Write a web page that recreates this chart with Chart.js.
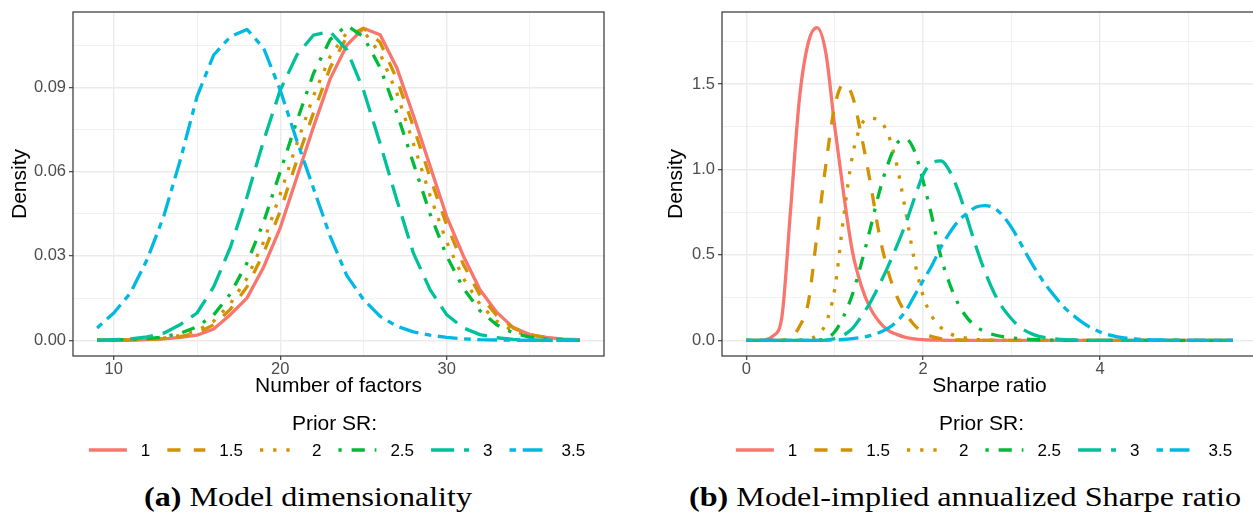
<!DOCTYPE html>
<html>
<head>
<meta charset="utf-8">
<script src="https://cdn.jsdelivr.net/npm/chart.js@4.4.1/dist/chart.umd.min.js"></script>
<style>
  html, body { margin: 0; padding: 0; background: #fff; overflow: hidden; }
  #page { position: relative; width: 1253px; height: 513px; overflow: hidden; }
  canvas { position: absolute; top: 0; }
  #dimChart { left: 0; }
  #srChart { left: 650px; }
  .cap { position: absolute; top: 484px; font-family: "Liberation Serif", "Times New Roman", serif;
         font-size: 27px; line-height: 27px; white-space: nowrap; transform-origin: 0 0; color: #000; }
</style>
</head>
<body>
<div id="page">
  <canvas id="dimChart" width="620" height="470"></canvas>
  <canvas id="srChart" width="620" height="470"></canvas>
  <div class="cap" id="capA" data-left="144" data-width="328"><b>(a)</b> Model dimensionality</div>
  <div class="cap" id="capB" data-left="689" data-width="552"><b>(b)</b> Model-implied annualized Sharpe ratio</div>
</div>
<script>
// prior Sharpe ratio levels (legend entries)
var priorSR = ['1', '1.5', '2', '2.5', '3', '3.5'];

// panel (a): posterior density of the number of factors
var factorCounts = [9, 10, 11, 12, 13, 14, 15, 16, 17, 18, 19, 20, 21, 22, 23,
                    24, 25, 26, 27, 28, 29, 30, 31, 32, 33, 34, 35, 36, 37, 38];
var dimSR1  = [0, 0, 0.0001, 0.0002, 0.0005, 0.0010, 0.0018, 0.0040, 0.0091, 0.0150,
               0.0260, 0.0400, 0.0580, 0.0760, 0.0930, 0.1050, 0.1110, 0.1087, 0.0970, 0.0800,
               0.0620, 0.0440, 0.0300, 0.0180, 0.0100, 0.0045, 0.0020, 0.0010, 0.0004, 0.0002];
var dimSR15 = [0, 0, 0.0001, 0.0003, 0.0006, 0.0013, 0.0026, 0.0055, 0.0110, 0.0190,
               0.0310, 0.0460, 0.0640, 0.0810, 0.0970, 0.1080, 0.1110, 0.1060, 0.0930, 0.0760,
               0.0580, 0.0410, 0.0270, 0.0160, 0.0088, 0.0044, 0.0020, 0.0008, 0.0003, 0.0001];
var dimSR2  = [0, 0.0001, 0.0002, 0.0004, 0.0008, 0.0017, 0.0034, 0.0068, 0.0130, 0.0220,
               0.0350, 0.0520, 0.0700, 0.0870, 0.1010, 0.1095, 0.1100, 0.1020, 0.0880, 0.0700,
               0.0515, 0.0350, 0.0220, 0.0128, 0.0068, 0.0033, 0.0015, 0.0006, 0.0002, 0.0001];
var dimSR25 = [0, 0.0001, 0.0003, 0.0006, 0.0012, 0.0025, 0.0048, 0.0090, 0.0165, 0.0275,
               0.0420, 0.0600, 0.0780, 0.0950, 0.1070, 0.1120, 0.1080, 0.0970, 0.0810, 0.0630,
               0.0450, 0.0300, 0.0185, 0.0105, 0.0055, 0.0026, 0.0011, 0.0004, 0.0001, 0];
var dimSR3  = [0, 0.0002, 0.0005, 0.0012, 0.0025, 0.0056, 0.0097, 0.0190, 0.0330, 0.0510,
               0.0710, 0.0890, 0.1015, 0.1086, 0.1098, 0.1033, 0.0890, 0.0700, 0.0500, 0.0310,
               0.0180, 0.0091, 0.0044, 0.0020, 0.0009, 0.0003, 0.0001, 0, 0, 0];
var dimSR35 = [0.0044, 0.0097, 0.0168, 0.0287, 0.0441, 0.0642, 0.0867, 0.1015, 0.1080, 0.1106,
               0.1040, 0.0890, 0.0710, 0.0540, 0.0370, 0.0230, 0.0145, 0.0085, 0.0050, 0.0030,
               0.0018, 0.0010, 0.0005, 0.0002, 0.0001, 0, 0, 0, 0, 0];

// panel (b): density of the model-implied annualized Sharpe ratio
var srGrid = [0.0, 0.1, 0.2, 0.3, 0.4, 0.5, 0.6, 0.7, 0.8, 0.9,
              1.0, 1.1, 1.2, 1.3, 1.4, 1.5, 1.6, 1.7, 1.8, 1.9,
              2.0, 2.1, 2.2, 2.3, 2.4, 2.5, 2.6, 2.7, 2.8, 2.9,
              3.0, 3.1, 3.2, 3.3, 3.4, 3.5, 3.6, 3.7, 3.8, 3.9,
              4.0, 4.1, 4.2, 4.3, 4.4, 4.5, 4.6, 4.7, 4.8, 4.9,
              5.0, 5.1, 5.2, 5.3, 5.4, 5.5];
var shSR1  = [0, 0, 0.002, 0.025, 0.13, 0.76, 1.41, 1.74, 1.83, 1.68,
              1.25, 0.86, 0.52, 0.32, 0.19, 0.11, 0.06, 0.035, 0.018, 0.009,
              0.004, 0.002, 0.001, 0, 0, 0, 0, 0, 0, 0,
              0, 0, 0, 0, 0, 0, 0, 0, 0, 0,
              0, 0, 0, 0, 0, 0, 0, 0, 0, 0,
              0, 0, 0, 0, 0, 0];
var shSR15 = [0, 0, 0, 0, 0.002, 0.015, 0.08, 0.22, 0.62, 1.03,
              1.37, 1.50, 1.43, 1.20, 0.93, 0.63, 0.41, 0.26, 0.16, 0.09,
              0.045, 0.022, 0.01, 0.005, 0.002, 0.001, 0, 0, 0, 0,
              0, 0, 0, 0, 0, 0, 0, 0, 0, 0,
              0, 0, 0, 0, 0, 0, 0, 0, 0, 0,
              0, 0, 0, 0, 0, 0];
var shSR2  = [0, 0, 0, 0, 0, 0, 0.002, 0.008, 0.03, 0.10,
              0.30, 0.72, 1.08, 1.26, 1.30, 1.29, 1.21, 1.03, 0.76, 0.47,
              0.26, 0.14, 0.075, 0.04, 0.022, 0.012, 0.006, 0.003, 0.0015, 0.0007,
              0, 0, 0, 0, 0, 0, 0, 0, 0, 0,
              0, 0, 0, 0, 0, 0, 0, 0, 0, 0,
              0, 0, 0, 0, 0, 0];
var shSR25 = [0, 0, 0, 0, 0, 0, 0, 0, 0.002, 0.01,
              0.05, 0.14, 0.27, 0.45, 0.65, 0.86, 1.03, 1.15, 1.18, 1.11,
              0.93, 0.72, 0.49, 0.33, 0.21, 0.13, 0.08, 0.05, 0.033, 0.022,
              0.015, 0.01, 0.006, 0.004, 0.002, 0.001, 0, 0, 0, 0,
              0, 0, 0, 0, 0, 0, 0, 0, 0, 0,
              0, 0, 0, 0, 0, 0];
var shSR3  = [0, 0, 0, 0, 0, 0, 0, 0, 0, 0.002,
              0.01, 0.03, 0.07, 0.14, 0.22, 0.32, 0.43, 0.55, 0.68, 0.83,
              0.97, 1.04, 1.05, 0.99, 0.87, 0.71, 0.545, 0.40, 0.28, 0.19,
              0.125, 0.075, 0.045, 0.025, 0.014, 0.008, 0.004, 0.002, 0.001, 0,
              0, 0, 0, 0, 0, 0, 0, 0, 0, 0,
              0, 0, 0, 0, 0, 0];
var shSR35 = [0, 0, 0, 0, 0, 0, 0, 0, 0, 0.001,
              0.003, 0.005, 0.01, 0.017, 0.028, 0.045, 0.07, 0.11, 0.17, 0.26,
              0.35, 0.44, 0.545, 0.63, 0.70, 0.745, 0.78, 0.789, 0.775, 0.73,
              0.66, 0.57, 0.475, 0.39, 0.315, 0.25, 0.19, 0.145, 0.105, 0.073,
              0.049, 0.032, 0.021, 0.013, 0.008, 0.005, 0.003, 0.002, 0.001, 0,
              0, 0, 0, 0, 0, 0];

// ggplot-like line styles: solid, dashed, dotted, dotdash, longdash, twodash
var lw = 3.3;
var lineColors = ['#F8766D', '#D39200', '#D39200', '#00BA38', '#00C19A', '#00B9E3'];
var lineDashes = [[], [4*lw, 4*lw], [lw, 3*lw], [lw, 3*lw, 4*lw, 3*lw], [7*lw, 3*lw], [2*lw, 2*lw, 6*lw, 2*lw]];

Chart.defaults.font.family = '"Liberation Sans", Arial, sans-serif';

function makeSets(xs, series, smooth) {
  return series.map(function (ys, i) {
    return {
      label: priorSR[i],
      data: xs.map(function (x, k) { return {x: x, y: ys[k]}; }),
      borderColor: lineColors[i],
      backgroundColor: lineColors[i],
      borderWidth: lw,
      borderDash: lineDashes[i],
      borderCapStyle: 'butt',
      borderJoinStyle: 'round',
      pointRadius: 0,
      fill: false,
      tension: 0,
      cubicInterpolationMode: smooth ? 'monotone' : 'default',
      order: series.length - i
    };
  });
}

// panel border plus the "Prior SR:" legend under the axis title
var panelDecor = {
  id: 'panelDecor',
  afterDraw: function (chart, args, opts) {
    var ctx = chart.ctx, a = chart.chartArea;
    ctx.save();
    ctx.setLineDash([]);
    ctx.strokeStyle = '#333333';
    ctx.lineWidth = 1.2;
    ctx.strokeRect(a.left, a.top, a.right - a.left, a.bottom - a.top);

    var cx = (a.left + a.right) / 2 + opts.shift;
    ctx.fillStyle = '#000';
    ctx.textBaseline = 'alphabetic';
    ctx.textAlign = 'center';
    ctx.font = '21px "Liberation Sans", Arial, sans-serif';
    ctx.fillText('Prior SR:', cx - 2.5, 430);

    ctx.font = '17px "Liberation Sans", Arial, sans-serif';
    ctx.textAlign = 'left';
    var keyW = 38, keyGap = 14, itemGap = 17, y = 450;
    var sets = chart.data.datasets;
    var widths = sets.map(function (d) { return ctx.measureText(d.label).width; });
    var total = itemGap * (sets.length - 1);
    widths.forEach(function (w) { total += keyW + keyGap + w; });
    var x = cx - total / 2;
    sets.forEach(function (d, i) {
      ctx.strokeStyle = d.borderColor;
      ctx.lineWidth = d.borderWidth;
      ctx.lineCap = 'butt';
      ctx.setLineDash(d.borderDash);
      ctx.beginPath();
      ctx.moveTo(x, y);
      ctx.lineTo(x + keyW, y);
      ctx.stroke();
      x += keyW + keyGap;
      ctx.fillStyle = '#000';
      ctx.fillText(d.label, x, y + 6);
      x += widths[i] + itemGap;
    });
    ctx.restore();
  }
};

function axisGrid(isMajor) {
  return {
    color: '#EBEBEB',
    lineWidth: function (c) { return c.tick && isMajor(c.tick.value) ? 1.4 : 0.7; },
    drawTicks: true,
    tickLength: 4,
    tickWidth: 1.1,
    tickColor: function (c) { return c.tick && isMajor(c.tick.value) ? '#333333' : 'rgba(0,0,0,0)'; }
  };
}

function buildChart(id, sets, cfg) {
  var tickFont = {size: 16.5, lineHeight: 1};
  var titleFont = {size: 21};
  return new Chart(document.getElementById(id), {
    type: 'line',
    data: {datasets: sets},
    options: {
      responsive: false,
      animation: false,
      events: [],
      layout: {padding: {top: 12, right: cfg.padRight, bottom: 70, left: 0}},
      plugins: {legend: {display: false}, tooltip: {enabled: false}, panelDecor: {shift: cfg.shift}},
      scales: {
        x: {
          type: 'linear', min: cfg.xMin, max: cfg.xMax,
          border: {display: false},
          grid: axisGrid(cfg.xMajor),
          ticks: {stepSize: cfg.xStep, includeBounds: false, autoSkip: false, maxRotation: 0,
                  color: '#4D4D4D', font: tickFont, padding: 1,
                  callback: function (v) { return cfg.xMajor(v) ? String(Math.round(v)) : ''; }},
          title: {display: true, text: cfg.xTitle, color: '#000', font: titleFont, padding: {top: 0, bottom: 1}},
          afterFit: function (s) { s.height = 44; }
        },
        y: {
          min: cfg.yMin, max: cfg.yMax,
          border: {display: false},
          grid: axisGrid(cfg.yMajor),
          ticks: {stepSize: cfg.yStep, includeBounds: false, autoSkip: false,
                  color: '#4D4D4D', font: tickFont, padding: 3,
                  callback: function (v) { return cfg.yMajor(v) ? v.toFixed(cfg.yDigits) : ''; }},
          title: {display: true, text: 'Density', color: '#000', font: titleFont, padding: {top: cfg.yTitlePad, bottom: 0}},
          afterFit: function (s) { s.width = cfg.yAxisW; }
        }
      }
    },
    plugins: [panelDecor]
  });
}

var dimChart = buildChart('dimChart',
  makeSets(factorCounts, [dimSR1, dimSR15, dimSR2, dimSR25, dimSR3, dimSR35], false),
  {
    xMin: 7.55, xMax: 39.45, xStep: 5,
    xMajor: function (v) { return Math.round(v / 5) % 2 === 0; },
    yMin: -0.0056, yMax: 0.1168, yStep: 0.015, yDigits: 2,
    yMajor: function (v) { return Math.round(v / 0.015) % 2 === 0; },
    xTitle: 'Number of factors', yAxisW: 73, yTitlePad: 7.7, padRight: 16, shift: -1.5
  });

var srChart = buildChart('srChart',
  makeSets(srGrid, [shSR1, shSR15, shSR2, shSR25, shSR3, shSR35], true),
  {
    xMin: -0.275, xMax: 5.775, xStep: 1,
    xMajor: function (v) { return Math.round(v) % 2 === 0; },
    yMin: -0.0915, yMax: 1.9215, yStep: 0.25, yDigits: 1,
    yMajor: function (v) { return Math.round(v / 0.25) % 2 === 0; },
    xTitle: 'Sharpe ratio', yAxisW: 72, yTitlePad: 13.7, padRight: 13, shift: -5.5
  });

// fit the serif captions to their line width
['capA', 'capB'].forEach(function (id) {
  var el = document.getElementById(id);
  var target = Number(el.dataset.width);
  el.style.left = el.dataset.left + 'px';
  var w = el.getBoundingClientRect().width;
  el.style.transform = 'scaleX(' + (target / w) + ')';
});
</script>
</body>
</html>
